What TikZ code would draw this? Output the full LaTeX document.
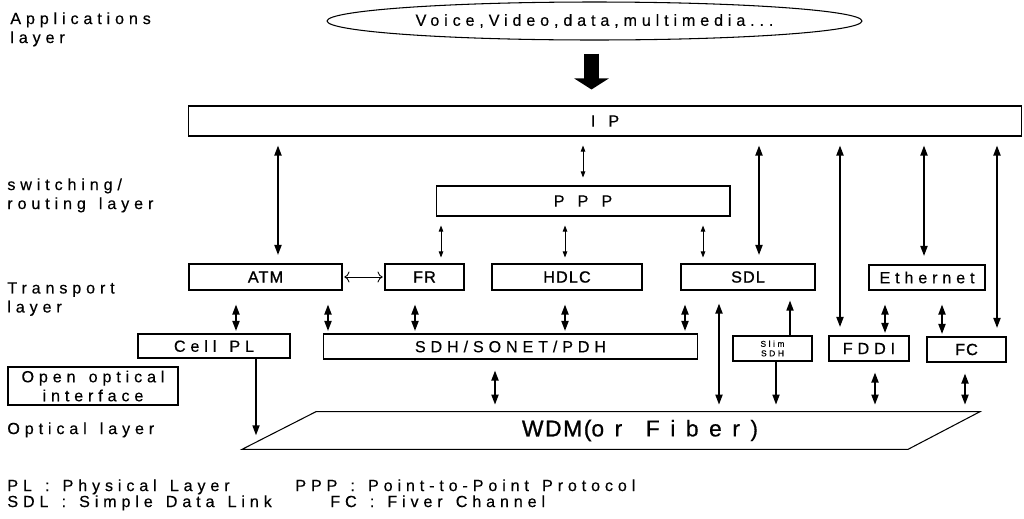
\documentclass[tikz,border=0pt]{standalone}
\usepackage{fontspec}
\setmainfont{Liberation Sans}
\newfontfamily\spacedfam[LetterSpace=30, WordSpace=1.4, FakeBold=0.4]{Liberation Sans}
\newfontfamily\tightfam[LetterSpace=7, FakeBold=1.2]{Liberation Sans}
\newfontfamily\widefam[LetterSpace=46, WordSpace=1.4, FakeBold=0.4]{Liberation Sans}
\usepackage{tikz}
\usetikzlibrary{positioning, arrows.meta, shapes.geometric}

\newcommand{\lblfont}{\fontsize{9.2}{10.8}\selectfont\spacedfam}
\newcommand{\tagfont}{\fontsize{9.2}{10.8}\selectfont\tightfam}

\tikzset{
  protobox/.style={draw, line width=0.6pt, inner sep=0pt, font=\lblfont},
  tagbox/.style={protobox, font=\tagfont},
  layertext/.style={anchor=north west, inner sep=0pt, align=left, font=\lblfont},
  dblarrow/.style={{Triangle[length=5.7pt,width=4pt]}-{Triangle[length=5.7pt,width=4pt]}, line width=1pt},
  onearrow/.style={-{Triangle[length=5.7pt,width=4pt]}, line width=0.9pt},
  thinarrow/.style={{Triangle[length=3.5pt,width=2.6pt]}-{Triangle[length=3.5pt,width=2.6pt]}, line width=0.5pt},
  fatarrow/.style={-{Triangle[length=0.22cm,width=0.68cm]}, line width=0.3cm},
}

\begin{document}
\begin{tikzpicture}[x=0.02cm, y=-0.02cm]
  \useasboundingbox (0,0) rectangle (1024,518);

  % layer names on the left
  \node[layertext] (applbl) at (10,12) {Applications\\layer};
  \node[layertext] (swlbl) at (7,178) {switching/\\routing layer};
  \node[layertext] (trlbl) at (7,282) {Transport\\layer};
  \node[protobox, align=center, minimum width=3.4cm, minimum height=0.76cm] (ooi) at (93,386) {Open optical\\interface};
  \node[layertext] (optlbl) at (7,422) {Optical layer};

  % applications and IP
  \node[draw, ellipse, line width=0.6pt, inner sep=0pt, minimum width=10.7cm, minimum height=0.76cm, font=\lblfont] (apps) at (594.5,21) {Voice,Video,data,multimedia...};
  \node[protobox, minimum width=16.68cm, minimum height=0.6cm] (ip) at (605,121) {I P\hspace{0.6cm}};
  \node[protobox, minimum width=5.88cm, minimum height=0.6cm] (ppp) at (583,201) {P P P};

  % transport row
  \node[tagbox, minimum width=3.06cm, minimum height=0.52cm] (atm) at (265.5,277) {ATM};
  \node[tagbox, minimum width=1.58cm, minimum height=0.52cm] (fr) at (424.5,277) {FR};
  \node[tagbox, minimum width=3.0cm, minimum height=0.52cm] (hdlc) at (567,277) {HDLC};
  \node[tagbox, minimum width=2.68cm, minimum height=0.52cm] (sdl) at (748,277) {SDL};
  \node[protobox, minimum width=2.32cm, minimum height=0.5cm] (eth) at (927,277.5) {Ethernet};

  % physical row
  \node[protobox, minimum width=3.04cm, minimum height=0.48cm] (cellpl) at (214,346) {Cell PL};
  \node[protobox, minimum width=7.5cm, minimum height=0.5cm] (sdh) at (510.5,346.5) {SDH/SONET/PDH\hspace{0.72cm}};
  \node[protobox, align=center, minimum width=1.58cm, minimum height=0.5cm, font={\fontsize{4.8}{5.4}\selectfont\spacedfam}] (slim) at (772.5,348.5) {Slim\\SDH};
  \node[protobox, minimum width=1.6cm, minimum height=0.5cm] (fddi) at (869,348.5) {FDDI};
  \node[tagbox, minimum width=1.58cm, minimum height=0.5cm] (fc) at (966.5,349.5) {FC};

  % optical layer
  \node[inner sep=0pt, minimum height=0.74cm, font={\fontsize{13}{15}\selectfont}] (wdm) at (640,430.5) {{\tightfam WDM(}{\widefam or Fiber)}};
  \draw[line width=0.6pt] (wdm.south -| 242,0) -- (wdm.north -| 316,0) -- (wdm.north -| 980,0) -- (wdm.south -| 908,0) -- cycle;

  % connectors
  \draw[fatarrow, shorten <=0.26cm, shorten >=0.32cm] (apps.south -| 591.5,0) -- (ip.north -| 591.5,0);
  \foreach \x/\b in {278/atm, 759/sdl, 840/fddi, 924/eth, 997/fc}
    \draw[dblarrow, shorten <=0.18cm, shorten >=0.17cm] (ip.south -| \x,0) -- (\b.north -| \x,0);
  \draw[thinarrow, shorten <=0.18cm, shorten >=0.16cm] (ip.south -| 583,0) -- (ppp.north);
  \foreach \x/\b in {441/fr, 565/hdlc, 703/sdl}
    \draw[thinarrow, shorten <=0.18cm, shorten >=0.12cm] (ppp.south -| \x,0) -- (\b.north -| \x,0);
  \draw[{To[length=3pt]}-{To[length=3pt]}, line width=0.5pt, shorten <=1pt, shorten >=1pt] (atm.east) -- (fr.west);
  \foreach \x/\a/\b in {236/atm/cellpl, 328/atm/sdh, 415/fr/sdh, 565/hdlc/sdh, 685/sdl/sdh, 885/eth/fddi, 942/eth/fc}
    \draw[dblarrow, shorten <=0.28cm, shorten >=0.05cm] (\a.south -| \x,0) -- (\b.north -| \x,0);
  \foreach \x/\a in {495/sdh, 875/fddi, 965/fc}
    \draw[dblarrow, shorten <=0.22cm, shorten >=0.14cm] (\a.south -| \x,0) -- (wdm.north -| \x,0);
  \draw[dblarrow, shorten <=0.26cm, shorten >=0.14cm] (sdl.south -| 719,0) -- (wdm.north -| 719,0);
  \draw[onearrow, shorten >=0.2cm] (slim.north -| 790,0) -- (sdl.south -| 790,0);
  \draw[onearrow, shorten >=0.14cm] (slim.south -| 776,0) -- (wdm.north -| 776,0);
  \draw[onearrow, shorten >=0.28cm] (cellpl.south -| 256,0) -- (wdm.south -| 256,0);

  % legend
  \node[layertext] (leg1) at (7,479) {PL : Physical Layer};
  \node[layertext] (leg2) at (295,479) {PPP : Point-to-Point Protocol};
  \node[layertext] (leg3) at (7,495) {SDL : Simple Data Link};
  \node[layertext] (leg4) at (330,495) {FC : Fiver Channel};
\end{tikzpicture}
\end{document}
